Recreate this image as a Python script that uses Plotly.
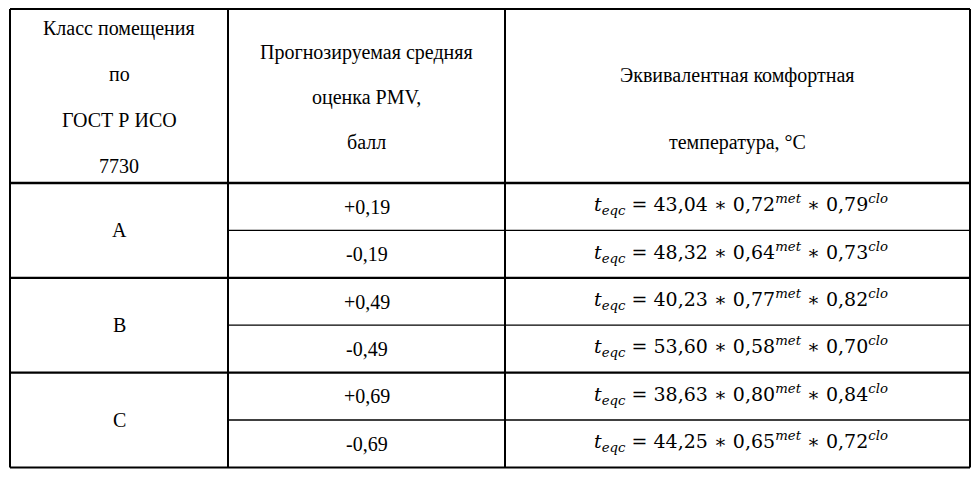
import plotly.graph_objects as go

# table content
classes = ["A", "B", "C"]
pmv = ["+0,19", "-0,19", "+0,49", "-0,49", "+0,69", "-0,69"]
coef_a = ["43,04", "48,32", "40,23", "53,60", "38,63", "44,25"]
coef_met = ["0,72", "0,64", "0,77", "0,58", "0,80", "0,65"]
coef_clo = ["0,79", "0,73", "0,82", "0,70", "0,84", "0,72"]
header1 = ["Класс помещения", "по", "ГОСТ Р ИСО", "7730"]
header2 = ["Прогнозируемая средняя", "оценка PMV,", "балл"]
header3 = ["Эквивалентная комфортная", "температура, °C"]

# layout grid (pixels of the window)
col_x = [10, 228, 505, 970]
top, head_bottom, row_h = 5, 183, 47.4
font = dict(family="Liberation Serif", size=20, color="black")

# the page body has an 8px margin, so the figure is shrunk and the ranges shifted
fig = go.Figure()
fig.update_layout(width=964, height=461, margin=dict(l=0, r=0, t=0, b=0),
                  plot_bgcolor="white", paper_bgcolor="white", showlegend=False,
                  xaxis=dict(range=[8, 972], visible=False),
                  yaxis=dict(range=[469, 8], visible=False))

def line(x0, y0, x1, y1, w=1.5):
    fig.add_shape(type="line", x0=x0, y0=y0, x1=x1, y1=y1, xref="x", yref="y",
                  line=dict(color="black", width=w))

def text(x, y, s):
    fig.add_annotation(x=x, y=y, text=s, showarrow=False, xref="x", yref="y", font=font)

top = 9
bottom = head_bottom + row_h * len(pmv)
line(col_x[0], top, col_x[-1], top, 2)
line(col_x[0], bottom, col_x[-1], bottom, 2)
for x in col_x:
    line(x, top, x, bottom, 2)
line(col_x[0], head_bottom, col_x[-1], head_bottom, 2.5)
for i in range(1, len(pmv)):
    y = head_bottom + row_h * i
    if i % 2 == 0:
        line(col_x[0], y, col_x[-1], y, 2.2)
    else:
        line(col_x[1], y, col_x[-1], y, 1.3)

# header
for i, s in enumerate(header1):
    text((col_x[0] + col_x[1]) / 2, 28 + 46 * i, s)
for i, s in enumerate(header2):
    text((col_x[1] + col_x[2]) / 2, 52 + 45 * i, s)
for i, s in enumerate(header3):
    text((col_x[2] + col_x[3]) / 2, 75 + 67 * i, s)

# body
for g, c in enumerate(classes):
    text((col_x[0] + col_x[1]) / 2, head_bottom + row_h * (2 * g + 1), c)
for i in range(len(pmv)):
    yc = head_bottom + row_h * (i + 0.5)
    text((col_x[1] + col_x[2]) / 2, yc, pmv[i])
    f = ("<i>t</i><sub><i>eqc</i></sub> = %s ∗ %s<sup><i>met</i></sup> ∗ %s<sup><i>clo</i></sup>"
         % (coef_a[i], coef_met[i], coef_clo[i]))
    fig.add_annotation(x=(col_x[2] + col_x[3]) / 2 + 3, y=yc - 2, text=f, showarrow=False,
                       xref="x", yref="y", font=dict(family="DejaVu Serif", size=19, color="black"))

fig.write_html("out.html")
